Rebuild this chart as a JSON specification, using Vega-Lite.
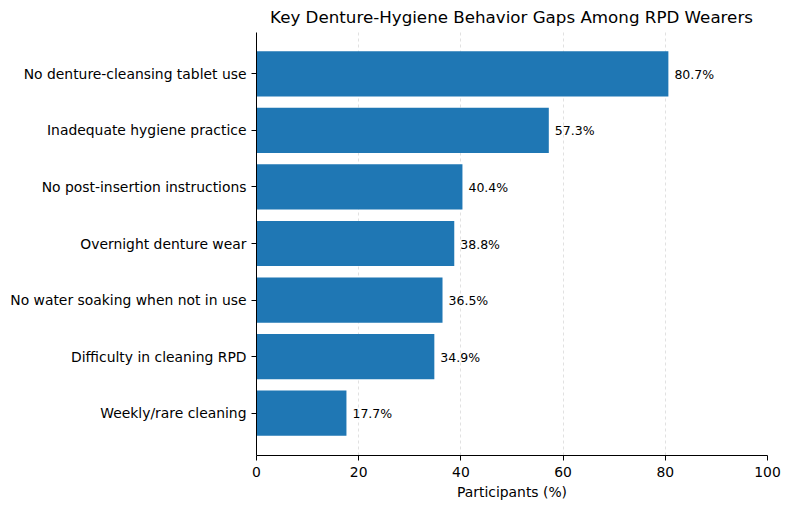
{
  "$schema": "https://vega.github.io/schema/vega-lite/v6.json",
  "width": 511,
  "height": 423,
  "autosize": {"type": "none"},
  "padding": {"left": 256, "top": 32, "right": 23, "bottom": 54},
  "background": "white",
  "config": {
    "font": "DejaVu Sans",
    "view": {"stroke": null}
  },
  "title": {
    "text": "Key Denture-Hygiene Behavior Gaps Among RPD Wearers",
    "anchor": "middle",
    "fontSize": 16.7,
    "fontWeight": "normal",
    "color": "black",
    "offset": 5
  },
  "data": {
    "values": [
      {"behavior": "No denture-cleansing tablet use", "pct": 80.7, "label": "80.7%"},
      {"behavior": "Inadequate hygiene practice", "pct": 57.3, "label": "57.3%"},
      {"behavior": "No post-insertion instructions", "pct": 40.4, "label": "40.4%"},
      {"behavior": "Overnight denture wear", "pct": 38.8, "label": "38.8%"},
      {"behavior": "No water soaking when not in use", "pct": 36.5, "label": "36.5%"},
      {"behavior": "Difficulty in cleaning RPD", "pct": 34.9, "label": "34.9%"},
      {"behavior": "Weekly/rare cleaning", "pct": 17.7, "label": "17.7%"}
    ]
  },
  "encoding": {
    "y": {
      "field": "behavior",
      "type": "nominal",
      "sort": null,
      "scale": {"paddingInner": 0.2, "paddingOuter": 0.34},
      "axis": {
        "title": null,
        "labelFontSize": 13.9,
        "labelColor": "black",
        "labelLimit": 0,
        "labelPadding": 5,
        "labelOffset": 1,
        "tickSize": 5,
        "tickColor": "black",
        "domainColor": "black",
        "zindex": 1
      }
    }
  },
  "layer": [
    {
      "mark": {"type": "bar", "color": "#1f77b4"},
      "encoding": {
        "x": {
          "field": "pct",
          "type": "quantitative",
          "scale": {"domain": [0, 100], "nice": false},
          "axis": {
            "title": "Participants (%)",
            "titleFontSize": 13.9,
            "titleFontWeight": "normal",
            "titleColor": "black",
            "titlePadding": 7,
            "values": [0, 20, 40, 60, 80, 100],
            "labelFontSize": 13.9,
            "labelColor": "black",
            "labelFlush": false,
            "labelPadding": 5,
            "tickSize": 5,
            "tickColor": "black",
            "domainColor": "black",
            "grid": true,
            "gridColor": "#cccccc",
            "gridDash": [3, 3],
            "gridWidth": 0.6,
            "gridOpacity": {"condition": {"test": "datum.value === 100 || datum.value === 0", "value": 0}, "value": 1},
            "zindex": 0
          }
        }
      }
    },
    {
      "mark": {"type": "text", "align": "left", "baseline": "middle", "dx": 6, "dy": 1, "fontSize": 12.5, "color": "black"},
      "encoding": {
        "x": {"field": "pct", "type": "quantitative"},
        "text": {"field": "label"}
      }
    }
  ]
}
